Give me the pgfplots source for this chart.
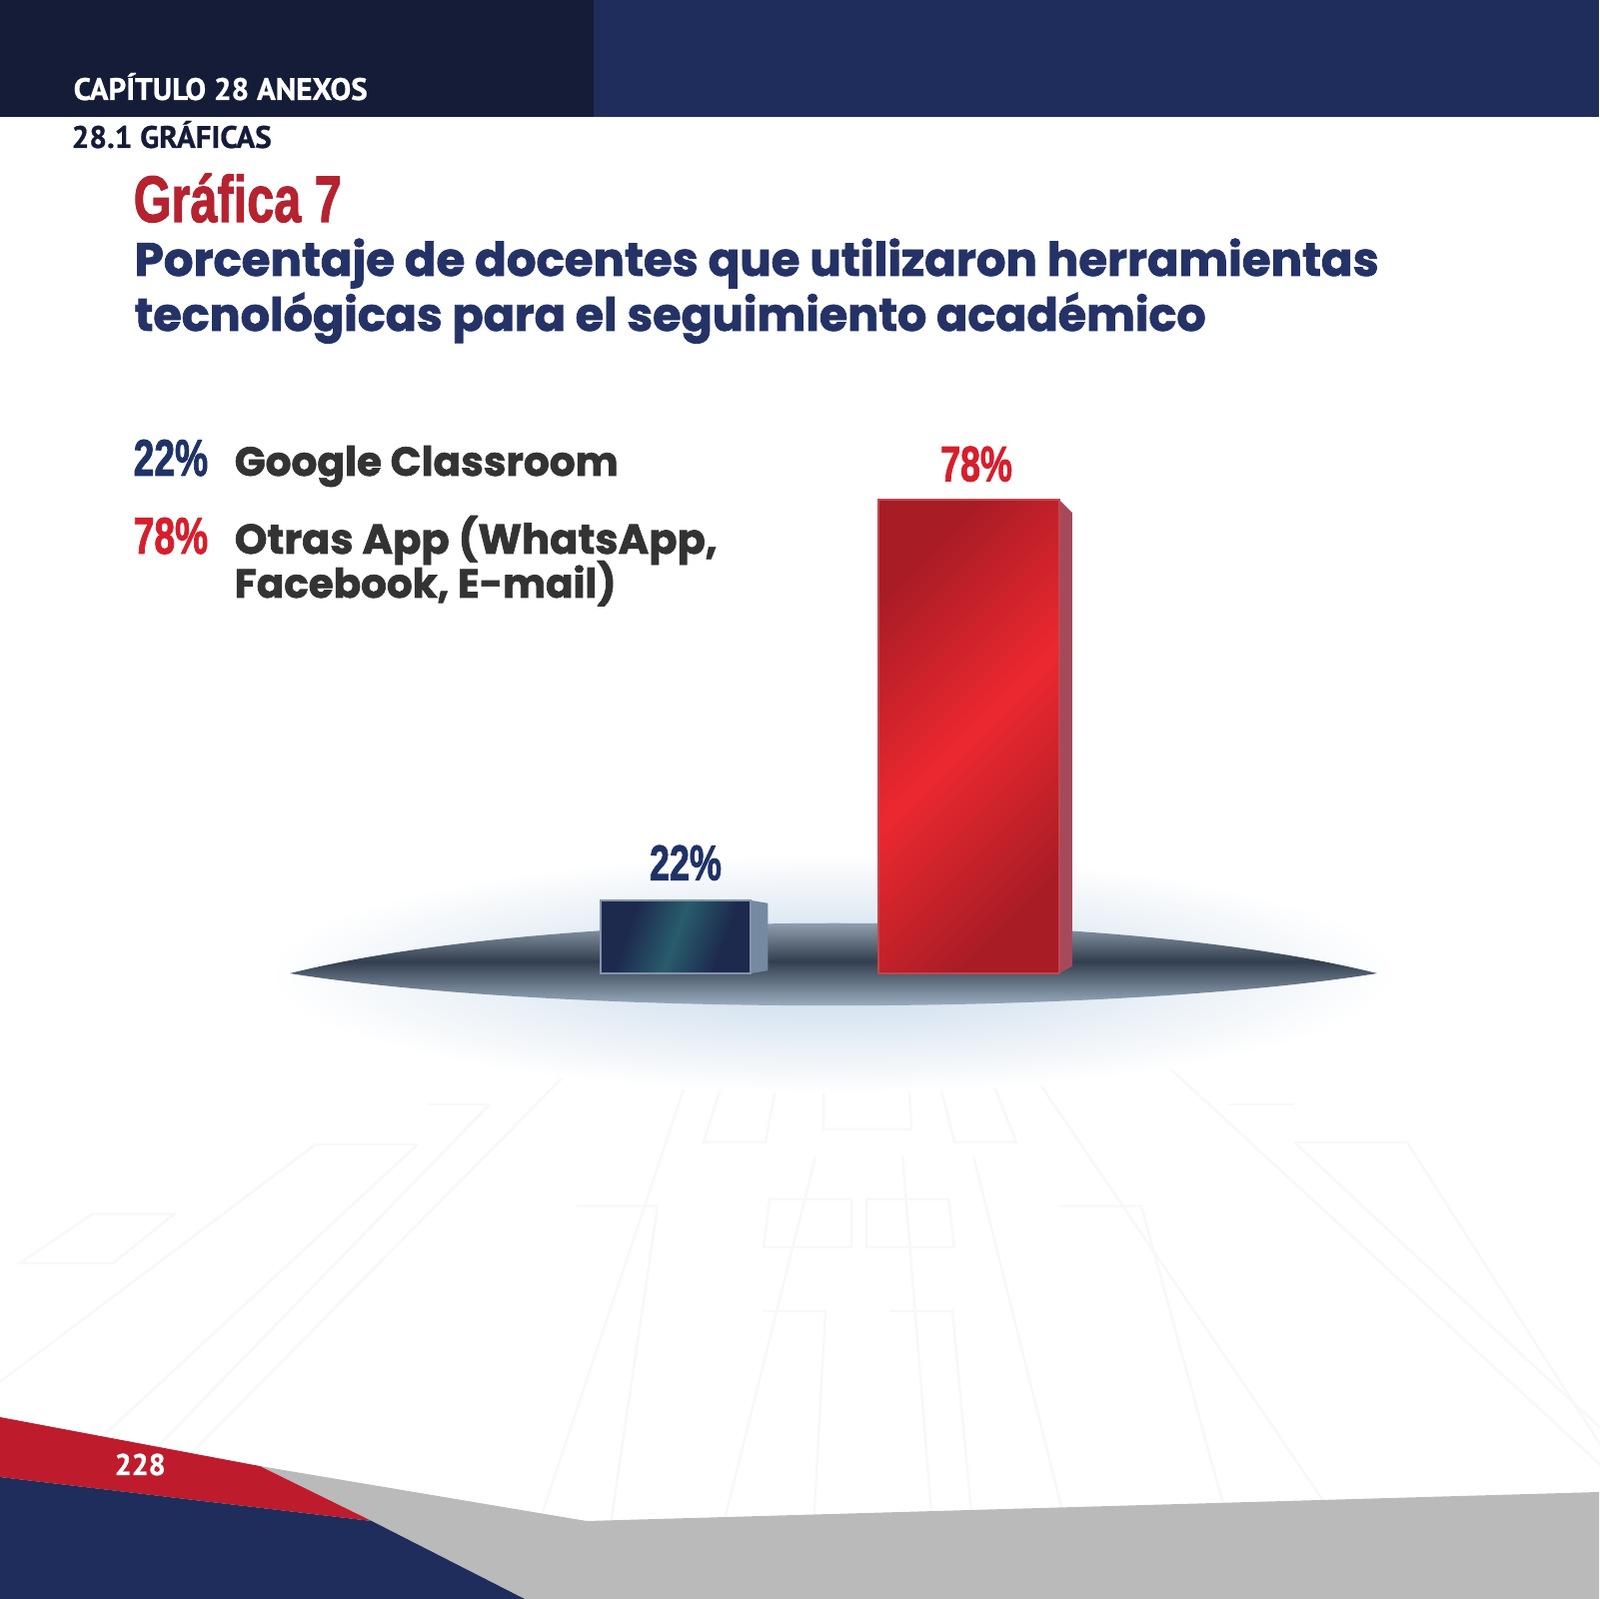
\documentclass[border=0pt]{standalone}
\usepackage{pgfplots}
\pgfplotsset{compat=1.18}
\usepackage{fontspec}
\setmainfont{Liberation Sans}
\newfontfamily\ptsans{PT Sans}[BoldFeatures={FakeBold=0.8}]
\newfontfamily\pop{Poppins}[BoldFeatures={FakeBold=1.6}]
\newfontfamily\heavy{Liberation Sans}[BoldFeatures={FakeBold=1.8}]
\newlength\px \setlength\px{0.1mm}
\definecolor{headdark}{HTML}{141C37}
\definecolor{headnavy}{HTML}{1F2D5D}
\definecolor{titlered}{HTML}{B52230}
\definecolor{navytxt}{HTML}{243266}
\definecolor{graytxt}{HTML}{333333}
\definecolor{legred}{HTML}{D61F2C}
\definecolor{legnavy}{HTML}{1F3366}
\definecolor{footred}{HTML}{BE1C2D}
\definecolor{footnavy}{HTML}{1E2D5B}
\definecolor{footgray}{HTML}{BBBABB}
\definecolor{rdark}{HTML}{A81C25}
\definecolor{rbright}{HTML}{EC2830}
\definecolor{rside}{HTML}{A44A5B}
\definecolor{rborder}{HTML}{C24651}
\definecolor{bdark}{HTML}{1D2A4E}
\definecolor{bteal}{HTML}{285C6C}
\definecolor{bside}{HTML}{7589A0}
\definecolor{bborder}{HTML}{8394AA}
\definecolor{glow}{HTML}{C6D8E9}
\definecolor{lensdark}{HTML}{333F4F}
\definecolor{lenstop}{HTML}{B8C8D8}
\definecolor{lensbot}{HTML}{B3C7DA}
\definecolor{bgline}{HTML}{F8F8F9}
\pgfdeclarehorizontalshading{redbar}{100bp}{color(0bp)=(rdark); color(25bp)=(rdark); color(50bp)=(rbright); color(75bp)=(rdark); color(100bp)=(rdark)}
\pgfdeclarehorizontalshading{bluebar}{100bp}{color(0bp)=(bdark); color(32bp)=(bdark); color(50bp)=(bteal); color(68bp)=(bdark); color(100bp)=(bdark)}
\begin{document}
\begin{tikzpicture}[x=0.1mm,y=0.1mm]
\fill[white] (0,0) rectangle (1600,1600);
\useasboundingbox (0,0) rectangle (1600,1600);
% faint background lines
\begin{scope}[draw=bgline, line width=0.25mm]
\draw (316,455) -- (-289,0);
\draw (418,455) -- (-73,0);
\draw (490,495) -- (10,0);
\draw (581,540) -- (47,0);
\draw (694,540) -- (514,0);
\draw (816,443) -- (705,0);
\draw (903,443) -- (939,0);
\draw (974,443) -- (1085,0);
\draw (1025,538) -- (1391,0);
\draw (1163,538) -- (1747,0);
\draw (1295,457) -- (1785,0);
\draw (1408,457) -- (1700,0);
\draw (316,455) -- (418,455);
\draw (1295,457) -- (1408,457);
\draw (558,540) -- (694,540);
\draw (1025,538) -- (1163,538);
\draw (728,533) -- (780,533) -- (766,457) -- (704,457) -- cycle;
\draw (824,545) -- (908,545) -- (912,470) -- (824,470) -- cycle;
\draw (936,533) -- (987,533) -- (1017,457) -- (955,457) -- cycle;
\draw (770,400) -- (852,400) -- (852,352) -- (764,352) -- cycle;
\draw (867,400) -- (949,400) -- (955,352) -- (867,352) -- cycle;
\draw (92,385) -- (174,385) -- (113,336) -- (20,336) -- cycle;
\draw (428,495) -- (490,495);
\draw (1230,495) -- (1295,495);
\draw (577,393) -- (658,393) -- (600,0);
\draw (1060,393) -- (1142,393) -- (1250,0);
\draw (763,288) -- (826,288) -- (810,0);
\draw (890,288) -- (953,288) -- (980,0);
\end{scope}
% header
\fill[headdark] (0,1483) rectangle (594,1600);
\fill[headnavy] (594,1483) rectangle (1600,1600);
\node[anchor=base west, inner sep=0pt, text=white] at (73,1500) {\resizebox{294\px}{!}{\ptsans\bfseries CAPÍTULO 28 ANEXOS}};
\node[anchor=base west, inner sep=0pt, text=headdark] at (71,1452) {\resizebox{200\px}{!}{\ptsans\bfseries 28.1 GRÁFICAS}};
% titles
\node[anchor=base west, inner sep=0pt, text=titlered] at (133,1378) {\scalebox{0.74}[1]{\fontsize{18.7}{20}\selectfont\heavy\bfseries Gráfica 7}};
\node[anchor=base west, inner sep=0pt, text=navytxt] at (134,1324) {\resizebox{1245\px}{!}{\pop\bfseries Porcentaje de docentes que utilizaron herramientas}};
\node[anchor=base west, inner sep=0pt, text=navytxt] at (134,1269) {\resizebox{1072\px}{!}{\pop\bfseries tecnológicas para el seguimiento académico}};
% legend
\node[anchor=base west, inner sep=0pt, text=legnavy] at (133,1124) {\scalebox{0.72}[1]{\fontsize{14.7}{16}\selectfont\heavy\bfseries 22\%}};
\node[anchor=base west, inner sep=0pt, text=graytxt] at (234,1124) {\resizebox{384\px}{!}{\pop\bfseries Google Classroom}};
\node[anchor=base west, inner sep=0pt, text=legred] at (133,1046) {\scalebox{0.72}[1]{\fontsize{14.7}{16}\selectfont\heavy\bfseries 78\%}};
\node[anchor=base west, inner sep=0pt, text=graytxt] at (234,1046) {\resizebox{483\px}{!}{\pop\bfseries Otras App (WhatsApp,}};
\node[anchor=base west, inner sep=0pt, text=graytxt] at (234,1002) {\resizebox{382\px}{!}{\pop\bfseries Facebook, E-mail)}};
% glow and lens
\shade[inner color=glow, outer color=white] (833,626) ellipse (565 and 120);
\shade[top color=lenstop, bottom color=lensbot, middle color=lensdark]
  (290,626) .. controls (560,693) and (1110,693) .. (1378,626)
  .. controls (1110,583) and (560,583) .. (290,626) -- cycle;
% footer
\fill[footgray] (260,133) -- (587,78) -- (1600,107) -- (1600,0) -- (525,0) -- (372,78) -- cycle;
\fill[footred] (0,182) -- (260,133) -- (372,78) -- (0,122) -- cycle;
\fill[footnavy] (0,122) -- (372,78) -- (525,0) -- (0,0) -- cycle;
\node[anchor=base west, inner sep=0pt, text=white] at (114,124) {\resizebox{51\px}{!}{\ptsans\bfseries 228}};
% bars
\begin{axis}[
  at={(52.925mm,62.6mm)}, anchor=south west,
  scale only axis, width=58.7mm, height=56mm,
  xmin=-0.5, xmax=1.5, ymin=11.8, ymax=90,
  hide axis, clip=false,
  every node near coord/.append style={inner sep=0pt},
]
% side faces
\addplot[fill=bside, draw=none] coordinates {(0.257,11.8) (0.257,22) (0.315,21.6) (0.315,12.2)} -- cycle;
\addplot[fill=rside, draw=none] coordinates {(1.308,11.8) (1.308,78) (1.352,76.2) (1.352,12.8)} -- cycle;
% front faces
\addplot[ybar, bar width=0.514, bar shift=0pt, draw=bborder, line width=0.2mm,
  shade, shading=bluebar, shading angle=-20,
  nodes near coords={\scalebox{0.72}[1]{\fontsize{14.2}{16}\selectfont\heavy\bfseries\pgfmathprintnumber[assume math mode=true]{\pgfplotspointmeta}\%}},
  every node near coord/.append style={text=legnavy, xshift=1.0mm, yshift=1.9mm}]
  coordinates {(0,22)};
\addplot[ybar, bar width=0.617, bar shift=0pt, draw=rborder, line width=0.2mm,
  shade, shading=redbar, shading angle=-45,
  nodes near coords={\scalebox{0.72}[1]{\fontsize{14.2}{16}\selectfont\heavy\bfseries\pgfmathprintnumber[assume math mode=true]{\pgfplotspointmeta}\%}},
  every node near coord/.append style={text=legred, xshift=0.75mm, yshift=1.7mm}]
  coordinates {(1,78)};
\end{axis}
\end{tikzpicture}
\end{document}
